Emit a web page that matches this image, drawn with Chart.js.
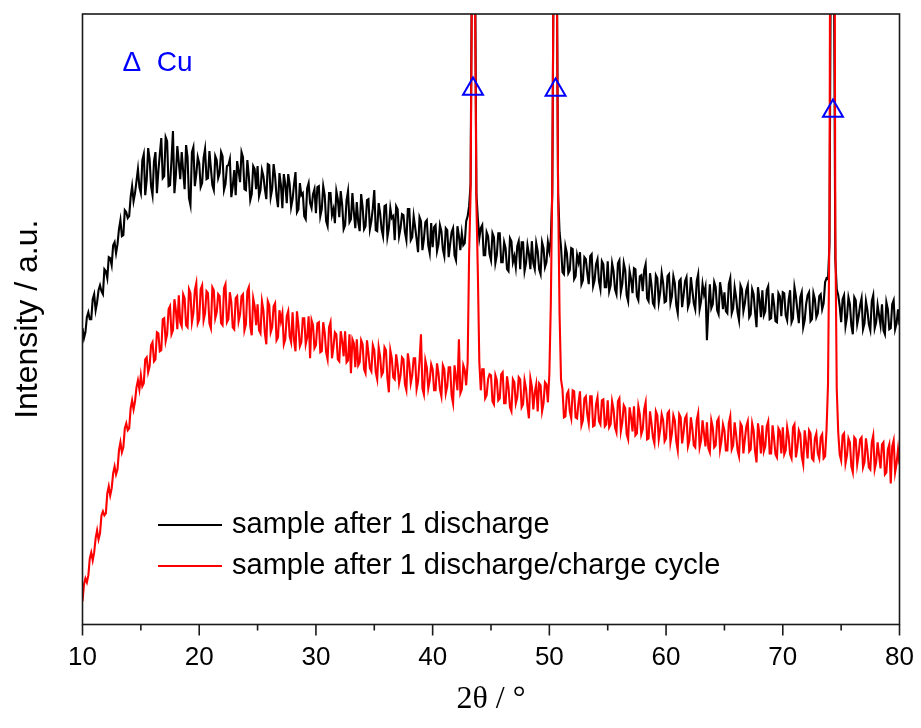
<!DOCTYPE html>
<html>
<head>
<meta charset="utf-8">
<script src="https://cdn.jsdelivr.net/npm/chart.js@4.4.1/dist/chart.umd.min.js"></script>
<style>
  body { margin: 0; background: #fff; }
  #wrap { width: 921px; height: 728px; }
</style>
</head>
<body>
<div id="wrap"><canvas id="xrd-chart" width="921" height="728"></canvas></div>
<script>
// 2theta grid, 0.125 deg step from 10 to 80
var angles = [];
for (var i = 0; i <= 560; i++) angles.push(10 + i * 0.125);

// intensity (a.u.), one row = 5 degrees
var afterDischarge = [
  296, 286, 292, 307, 312, 305, 305, 325, 330, 314, 322, 334, 339, 333, 330, 355, 353, 346, 367, 366, 359, 379, 382, 371, 380, 395, 404, 388, 389, 414, 412, 406, 408, 427, 438, 423, 431, 443, 455, 437,
  431, 464, 470, 429, 444, 476, 465, 438, 429, 463, 472, 431, 453, 470, 486, 446, 448, 487, 483, 438, 439, 464, 493, 431, 449, 478, 462, 445, 472, 453, 435, 479, 467, 426, 419, 472, 477, 438, 450, 467,
  461, 437, 441, 466, 475, 445, 446, 473, 456, 439, 434, 468, 464, 446, 451, 472, 468, 434, 440, 458, 459, 465, 427, 438, 454, 429, 463, 453, 442, 472, 467, 435, 434, 464, 448, 424, 430, 458, 455, 435,
  458, 428, 434, 454, 448, 435, 425, 460, 459, 427, 435, 460, 448, 428, 417, 451, 439, 416, 450, 440, 421, 450, 440, 417, 425, 440, 452, 412, 415, 441, 429, 431, 408, 405, 436, 441, 421, 416, 430, 435,
  411, 437, 438, 408, 415, 438, 429, 403, 398, 431, 431, 409, 415, 401, 433, 425, 407, 433, 419, 395, 399, 424, 433, 402, 405, 431, 412, 396, 422, 402, 393, 430, 417, 395, 398, 424, 425, 395, 403, 416,
  434, 394, 393, 421, 411, 395, 388, 418, 419, 387, 396, 416, 406, 408, 384, 418, 415, 388, 396, 410, 409, 392, 384, 415, 415, 384, 387, 408, 397, 385, 372, 407, 403, 374, 385, 402, 404, 379, 371, 401,
  377, 397, 399, 373, 380, 399, 393, 375, 368, 396, 394, 367, 380, 392, 396, 369, 364, 398, 388, 374, 391, 379, 381, 403, 408, 418, 440, 690, 900, 680, 430, 405, 386, 396, 399, 369, 369, 392, 388, 370,
  364, 391, 387, 361, 369, 391, 391, 362, 362, 382, 376, 355, 353, 386, 383, 362, 368, 357, 378, 383, 355, 382, 382, 353, 361, 379, 370, 355, 383, 361, 355, 381, 373, 355, 350, 382, 376, 357, 362, 382,
  373, 385, 430, 690, 950, 690, 430, 392, 377, 352, 350, 378, 371, 351, 354, 376, 375, 345, 348, 369, 362, 372, 340, 344, 367, 365, 351, 340, 368, 370, 338, 344, 360, 365, 343, 335, 363, 360, 337, 337,
  363, 333, 339, 361, 353, 335, 330, 361, 364, 332, 340, 361, 354, 329, 323, 353, 345, 331, 356, 355, 328, 324, 348, 349, 333, 354, 360, 326, 323, 351, 339, 321, 318, 349, 346, 322, 332, 351, 341, 322,
  323, 348, 350, 321, 328, 348, 341, 319, 311, 343, 345, 317, 329, 343, 347, 317, 322, 347, 334, 321, 315, 343, 350, 315, 323, 340, 330, 337, 284, 315, 340, 316, 320, 342, 337, 314, 310, 342, 332, 315,
  332, 313, 311, 340, 346, 311, 316, 337, 327, 312, 304, 339, 335, 313, 321, 334, 339, 307, 310, 335, 330, 312, 297, 337, 325, 307, 334, 309, 313, 334, 338, 305, 306, 331, 320, 303, 302, 331, 328, 308,
  332, 331, 309, 304, 324, 334, 302, 306, 337, 328, 314, 301, 327, 332, 297, 304, 320, 329, 332, 303, 305, 331, 325, 307, 311, 328, 330, 315, 321, 342, 346, 345, 380, 700, 900, 690, 365, 335, 329, 318,
  302, 325, 329, 298, 307, 327, 320, 299, 290, 327, 324, 300, 308, 319, 326, 295, 301, 323, 314, 300, 294, 323, 329, 296, 302, 319, 309, 299, 320, 294, 290, 322, 315, 295, 296, 320, 324, 295, 301, 315,
  299
];

var afterCycle = [
  23, 40, 46, 42, 49, 66, 72, 64, 72, 86, 94, 85, 91, 109, 113, 109, 111, 131, 138, 129, 136, 151, 158, 150, 155, 174, 182, 172, 177, 196, 201, 194, 196, 216, 224, 215, 223, 237, 244, 235,
  249, 238, 241, 265, 267, 252, 258, 279, 282, 263, 265, 292, 291, 273, 274, 305, 306, 283, 290, 315, 318, 290, 294, 325, 314, 295, 329, 302, 298, 330, 326, 299, 297, 335, 331, 302, 311, 334, 341, 301,
  305, 335, 339, 304, 311, 333, 331, 301, 296, 337, 334, 306, 312, 330, 328, 301, 299, 336, 340, 302, 305, 332, 322, 297, 295, 326, 328, 303, 310, 328, 330, 294, 300, 333, 337, 298, 289, 326, 318, 299,
  320, 294, 291, 323, 314, 291, 280, 323, 319, 292, 297, 318, 321, 284, 287, 314, 303, 311, 280, 285, 308, 313, 288, 282, 312, 284, 273, 313, 299, 278, 282, 306, 306, 280, 287, 308, 266, 304, 299, 276,
  279, 301, 302, 272, 273, 302, 292, 272, 265, 297, 302, 266, 277, 292, 290, 265, 263, 293, 283, 268, 293, 262, 264, 290, 251, 285, 281, 257, 285, 259, 262, 284, 280, 255, 251, 284, 271, 256, 253, 279,
  274, 252, 245, 277, 268, 249, 252, 277, 274, 246, 232, 274, 266, 247, 245, 270, 259, 241, 249, 267, 265, 240, 234, 271, 260, 241, 249, 266, 266, 235, 243, 263, 290, 236, 230, 264, 257, 236, 244, 260,
  255, 234, 234, 261, 251, 235, 228, 259, 255, 231, 238, 257, 257, 229, 221, 259, 247, 234, 285, 231, 235, 259, 254, 239, 262, 370, 430, 655, 1200, 640, 420, 350, 262, 234, 255, 255, 226, 229, 245, 250,
  249, 223, 220, 249, 244, 224, 226, 250, 252, 221, 221, 248, 237, 217, 213, 245, 242, 221, 227, 247, 245, 217, 220, 244, 236, 218, 206, 246, 238, 215, 232, 240, 213, 241, 239, 213, 221, 242, 240, 222,
  250, 320, 440, 690, 1200, 680, 430, 310, 245, 235, 207, 208, 230, 233, 213, 206, 234, 233, 207, 206, 222, 233, 199, 204, 226, 228, 210, 201, 228, 228, 198, 199, 220, 227, 203, 200, 224, 225, 198, 200,
  224, 197, 200, 223, 215, 197, 192, 223, 226, 193, 202, 219, 216, 190, 185, 217, 207, 193, 218, 189, 191, 218, 210, 190, 195, 215, 222, 185, 186, 213, 201, 187, 181, 213, 209, 185, 195, 210, 204, 183,
  186, 211, 213, 182, 191, 209, 204, 183, 174, 210, 207, 181, 192, 206, 209, 178, 184, 207, 196, 179, 177, 204, 211, 177, 184, 204, 191, 178, 202, 176, 172, 204, 197, 177, 179, 203, 206, 175, 184, 200,
  194, 174, 174, 201, 208, 175, 179, 202, 190, 174, 168, 201, 198, 171, 185, 198, 203, 173, 175, 201, 194, 173, 162, 201, 190, 171, 199, 173, 178, 198, 203, 171, 171, 199, 186, 170, 167, 196, 193, 171,
  197, 170, 174, 197, 188, 170, 166, 197, 200, 167, 177, 194, 190, 168, 160, 194, 182, 166, 194, 191, 166, 164, 186, 191, 171, 166, 187, 190, 166, 168, 195, 240, 400, 1050, 1400, 1040, 395, 235, 192, 170,
  164, 189, 191, 161, 169, 186, 182, 158, 152, 187, 185, 160, 170, 185, 187, 157, 162, 186, 174, 157, 155, 182, 189, 155, 162, 182, 169, 156, 180, 182, 150, 152, 175, 180, 141, 178, 184, 152, 161, 175,
  160
];

// Cu reflections marked with triangles
var cuAngles = [43.46, 50.53, 74.3];
var cuMarks = [535, 534, 513];

var seriesLabels = ['sample after 1 discharge', 'sample after 1 discharge/charge cycle'];
var xTicks = [10, 20, 30, 40, 50, 60, 70, 80];

function toPoints(xs, ys) {
  var pts = [];
  for (var i = 0; i < ys.length; i++) pts.push({ x: xs[i], y: ys[i] });
  return pts;
}

var sans = "'Liberation Sans', Arial, sans-serif";
Chart.defaults.font.family = sans;
Chart.defaults.color = '#000';

// frame, x tick marks, legend and the "Δ Cu" note
var decor = {
  id: 'decor',
  afterDraw: function (chart) {
    var ctx = chart.ctx;
    var a = chart.chartArea;
    var xs = chart.scales.x;
    ctx.save();
    ctx.strokeStyle = '#1a1a1a';
    ctx.lineWidth = 1.6;
    ctx.strokeRect(a.left, a.top, a.right - a.left, a.bottom - a.top);
    for (var v = 10; v <= 80; v += 5) {
      var px = xs.getPixelForValue(v);
      var len = (v % 10 === 0) ? 11 : 6;
      ctx.beginPath();
      ctx.moveTo(px, a.bottom);
      ctx.lineTo(px, a.bottom + len);
      ctx.stroke();
    }
    // legend
    ctx.font = '29px ' + sans;
    ctx.textBaseline = 'middle';
    ctx.textAlign = 'left';
    for (var k = 0; k < 2; k++) {
      var ds = chart.data.datasets[k];
      var y = 525 + k * 41;
      ctx.strokeStyle = ds.borderColor;
      ctx.lineWidth = 1.8;
      ctx.beginPath();
      ctx.moveTo(158, y);
      ctx.lineTo(222, y);
      ctx.stroke();
      ctx.fillStyle = '#000';
      ctx.fillText(ds.label, 232, y);
    }
    ctx.font = '28px ' + sans;
    ctx.fillStyle = '#0000ff';
    ctx.textBaseline = 'alphabetic';
    ctx.fillText('\u0394  Cu', a.left + 40, a.top + 57);
    ctx.restore();
  }
};

new Chart(document.getElementById('xrd-chart'), {
  type: 'line',
  data: {
    datasets: [
      {
        label: seriesLabels[0],
        data: toPoints(angles, afterDischarge),
        borderColor: '#000000',
        borderWidth: 2.1,
        pointRadius: 0,
        order: 2
      },
      {
        label: seriesLabels[1],
        data: toPoints(angles, afterCycle),
        borderColor: '#ff0000',
        borderWidth: 2.1,
        pointRadius: 0,
        order: 1
      },
      {
        label: 'Cu',
        data: toPoints(cuAngles, cuMarks),
        showLine: false,
        pointStyle: 'triangle',
        pointRadius: 11.5,
        borderColor: '#0000ff',
        backgroundColor: 'rgba(0,0,0,0)',
        pointBorderWidth: 2,
        order: 0,
        clip: false
      }
    ]
  },
  options: {
    responsive: false,
    animation: false,
    layout: { padding: { top: 14, right: 21.5, left: 0, bottom: 0 } },
    plugins: {
      legend: { display: false },
      tooltip: { enabled: false }
    },
    scales: {
      x: {
        type: 'linear',
        min: 10,
        max: 80,
        afterBuildTicks: function (scale) {
          scale.ticks = xTicks.map(function (v) { return { value: v }; });
        },
        afterFit: function (scale) {
          scale.height = 103.5;
          scale.paddingLeft = 0;
          scale.paddingRight = 0;
        },
        grid: { display: false, drawTicks: false },
        border: { display: false },
        ticks: { padding: 18, font: { size: 26 }, color: '#000', maxRotation: 0 },
        title: {
          display: true,
          text: '2\u03b8 / \u00b0',
          font: { family: "'Liberation Serif', 'Times New Roman', serif", size: 32 },
          padding: { bottom: 9 }
        }
      },
      y: {
        min: 0,
        max: 610,
        afterFit: function (scale) { scale.width = 82.5; },
        grid: { display: false, drawTicks: false },
        border: { display: false },
        ticks: { display: false },
        title: {
          display: true,
          text: 'Intensity / a.u.',
          font: { size: 32 },
          padding: { top: 9 }
        }
      }
    }
  },
  plugins: [decor]
});
</script>
</body>
</html>
